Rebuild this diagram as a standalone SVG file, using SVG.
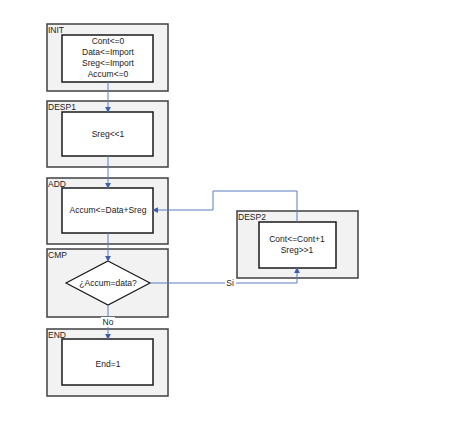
<svg xmlns="http://www.w3.org/2000/svg" width="468" height="422" viewBox="0 0 468 422">
<defs>
<marker id="arr" viewBox="0 0 8 8" refX="7" refY="4" markerWidth="6" markerHeight="6" orient="auto" markerUnits="userSpaceOnUse">
<path d="M0,0 L8,4 L0,8 z" fill="#3d5fb0"/>
</marker>
<style>
.outer{fill:#f2f2f2;stroke:#404040;stroke-width:1.5}
.inner{fill:#ffffff;stroke:#1a1a1a;stroke-width:1.5}
.lbl{font-family:"Liberation Sans",Arial,sans-serif;font-size:8.5px;fill:#222}
.txt{font-family:"Liberation Sans",Arial,sans-serif;font-size:8.5px;fill:#222;text-anchor:middle}
.con{fill:none;stroke:#5a7ec2;stroke-width:1}
</style>
</defs>
<rect width="468" height="422" fill="#ffffff"/>
<g id="INIT">
<rect class="outer" x="47" y="24" width="121" height="67"/>
<text class="lbl" x="48" y="33">INIT</text>
<rect class="inner" x="62" y="35" width="91" height="47"/>
<text class="txt" x="108" y="44">Cont&lt;=0</text>
<text class="txt" x="108" y="55">Data&lt;=Import</text>
<text class="txt" x="108" y="66">Sreg&lt;=Import</text>
<text class="txt" x="108" y="77">Accum&lt;=0</text>
</g>
<g id="DESP1">
<rect class="outer" x="47" y="101" width="121" height="66"/>
<text class="lbl" x="48" y="110">DESP1</text>
<rect class="inner" x="62" y="112" width="91" height="44"/>
<text class="txt" x="108" y="137">Sreg&lt;&lt;1</text>
</g>
<g id="ADD">
<rect class="outer" x="47" y="178" width="121" height="66"/>
<text class="lbl" x="48" y="187">ADD</text>
<rect class="inner" x="62" y="188" width="91" height="45"/>
<text class="txt" x="108" y="213">Accum&lt;=Data+Sreg</text>
</g>
<g id="CMP">
<rect class="outer" x="47" y="249" width="121" height="68"/>
<text class="lbl" x="48" y="258">CMP</text>
<polygon points="108,261 150,283 108,305 66,283" fill="#ffffff" stroke="#1a1a1a" stroke-width="1.2"/>
<text class="txt" x="108" y="286">¿Accum=data?</text>
</g>
<g id="END">
<rect class="outer" x="47" y="329" width="121" height="67"/>
<text class="lbl" x="48" y="338">END</text>
<rect class="inner" x="62" y="339" width="91" height="46"/>
<text class="txt" x="108" y="367">End=1</text>
</g>
<g id="DESP2">
<rect class="outer" x="237" y="211" width="121" height="67"/>
<text class="lbl" x="238" y="220">DESP2</text>
<rect class="inner" x="259" y="222" width="77" height="46"/>
<text class="txt" x="297" y="242">Cont&lt;=Cont+1</text>
<text class="txt" x="297" y="253">Sreg&gt;&gt;1</text>
</g>
<g id="connectors">
<path class="con" d="M108,82 L108,112" marker-end="url(#arr)"/>
<path class="con" d="M108,156 L108,188" marker-end="url(#arr)"/>
<path class="con" d="M108,233 L108,261" marker-end="url(#arr)"/>
<path class="con" d="M108,305 L108,339" marker-end="url(#arr)"/>
<path class="con" d="M150,283 L297,283 L297,268" marker-end="url(#arr)"/>
<path class="con" d="M297,222 L297,191 L213,191 L213,210 L153,210" marker-end="url(#arr)"/>
<rect x="101" y="317" width="14" height="10" fill="#ffffff"/>
<text class="txt" x="108" y="325">No</text>
<rect x="225" y="278" width="11" height="10" fill="#ffffff"/>
<text class="txt" x="230" y="286">Si</text>
</g>
</svg>
